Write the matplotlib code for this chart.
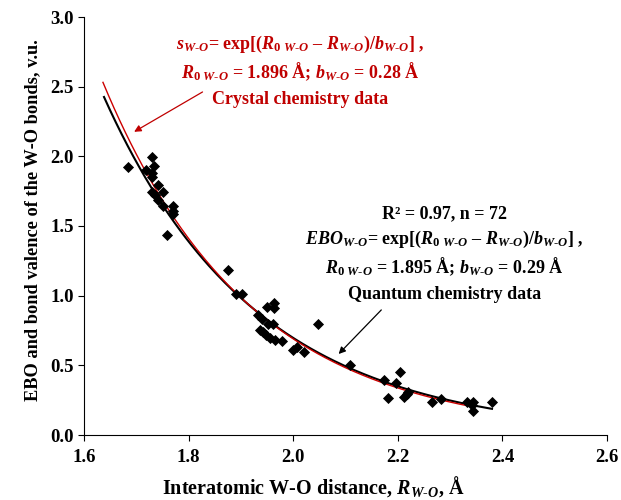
import numpy as np
import matplotlib
matplotlib.use("Agg")
import matplotlib.pyplot as plt

plt.rcParams['font.family'] = ['Liberation Serif', 'DejaVu Serif']
plt.rcParams['font.weight'] = 'bold'
plt.rcParams['mathtext.fontset'] = 'custom'
plt.rcParams['mathtext.rm'] = 'Liberation Serif:bold'
plt.rcParams['mathtext.it'] = 'Liberation Serif:italic:bold'
plt.rcParams['mathtext.bf'] = 'Liberation Serif:bold'

# quantum chemistry points (R, EBO)
r_wo = [1.684, 1.730, 1.734, 1.719, 1.730, 1.730, 1.742, 1.729, 1.751, 1.735,
        1.742, 1.750, 1.770, 1.770, 1.769, 1.759,
        1.876, 1.890, 1.902, 1.950, 1.964, 1.964, 1.933, 1.941, 1.962, 1.952,
        1.936, 1.943, 1.948, 1.955, 1.965, 1.978, 2.000, 2.008, 2.020, 2.048,
        2.109, 2.174, 2.196, 2.181, 2.204, 2.211, 2.217, 2.220, 2.266, 2.282,
        2.333, 2.343, 2.341, 2.343, 2.380]
ebo = [1.926, 1.994, 1.931, 1.902, 1.879, 1.854, 1.795, 1.747, 1.747, 1.723,
       1.687, 1.644, 1.644, 1.610, 1.587, 1.436,
       1.185, 1.010, 1.010, 0.917, 0.945, 0.909, 0.861, 0.830, 0.797, 0.797,
       0.754, 0.742, 0.718, 0.694, 0.682, 0.677, 0.610, 0.630, 0.594, 0.797,
       0.503, 0.395, 0.371, 0.268, 0.454, 0.270, 0.294, 0.311, 0.235, 0.258,
       0.239, 0.239, 0.215, 0.174, 0.239]

# fit parameters
r0_qc, b_qc = 1.895, 0.29
r0_cc, b_cc = 1.896, 0.28
qc_range = (1.638, 2.38)
cc_range = (1.636, 2.346)

fig = plt.figure(figsize=(6.21, 5.0), dpi=100)
ax = fig.add_axes([0.1355, 0.13, 0.842, 0.836])

ax.scatter(r_wo, ebo, marker='D', s=32, color='black', zorder=3, linewidths=0)

x_qc = np.linspace(*qc_range, 200)
ax.plot(x_qc, np.exp((r0_qc - x_qc) / b_qc), color='black', lw=1.5, zorder=2)
x_cc = np.linspace(*cc_range, 200)
ax.plot(x_cc, np.exp((r0_cc - x_cc) / b_cc), color='#cc0000', lw=1.0, zorder=2)

ax.set_xlim(1.6, 2.6)
ax.set_ylim(0, 3.0)
ax.set_xticks([1.6, 1.8, 2.0, 2.2, 2.4, 2.6])
ax.set_yticks([0.0, 0.5, 1.0, 1.5, 2.0, 2.5, 3.0])
ax.xaxis.set_major_formatter(matplotlib.ticker.FormatStrFormatter('%.1f'))
ax.yaxis.set_major_formatter(matplotlib.ticker.FormatStrFormatter('%.1f'))
for s in ['top', 'right']:
    ax.spines[s].set_visible(False)
ax.tick_params(direction='out', length=4, labelsize=13.5, width=0.8)
ax.tick_params(axis='x', pad=6)
for lab in ax.get_xticklabels() + ax.get_yticklabels():
    lab.set_fontweight('bold')

hy = '\u2010'
sub = 'W' + hy + 'O'
ax.set_xlabel('Interatomic W' + hy + 'O distance, $R_{' + sub + '}$, Å',
              fontsize=14.5, fontweight='bold')
ax.set_ylabel('EBO and bond valence of the W' + hy + 'O bonds, v.u.',
              fontsize=13.2, fontweight='bold')
ax.xaxis.set_label_coords(0.438, -0.093)
ax.yaxis.set_label_coords(-0.082, 0.514)

red = '#c00000'
fs = 13
ax.text(2.013, 2.80, '$s_{' + sub + '}$= exp[($R_{0\\ ' + sub + '}$ – $R_{' + sub + '}$)/$b_{' + sub + '}$] ,',
        color=red, fontsize=fs, ha='center', va='center')
ax.text(2.013, 2.606, '$R_{0\\ ' + sub + '}$ = 1.896 Å; $b_{' + sub + '}$ = 0.28 Å',
        color=red, fontsize=fs, ha='center', va='center')
ax.text(2.013, 2.405, 'Crystal chemistry data', color=red, fontsize=fs, ha='center', va='center')

ax.text(2.289, 1.587, 'R² = 0.97, n = 72', fontsize=fs, ha='center', va='center')
ax.text(2.289, 1.40, '$EBO_{' + sub + '}$= exp[($R_{0\\ ' + sub + '}$ – $R_{' + sub + '}$)/$b_{' + sub + '}$] ,',
        fontsize=fs, ha='center', va='center')
ax.text(2.289, 1.206, '$R_{0\\ ' + sub + '}$ = 1.895 Å; $b_{' + sub + '}$ = 0.29 Å',
        fontsize=fs, ha='center', va='center')
ax.text(2.289, 1.005, 'Quantum chemistry data', fontsize=fs, ha='center', va='center')

ax.annotate('', xy=(1.691, 2.166), xytext=(1.831, 2.472),
            arrowprops=dict(arrowstyle='-|>', color=red, lw=0.9, mutation_scale=10))
ax.annotate('', xy=(2.083, 0.567), xytext=(2.172, 0.912),
            arrowprops=dict(arrowstyle='-|>', color='black', lw=0.9, mutation_scale=10))

fig.savefig('out.png', dpi=100)
